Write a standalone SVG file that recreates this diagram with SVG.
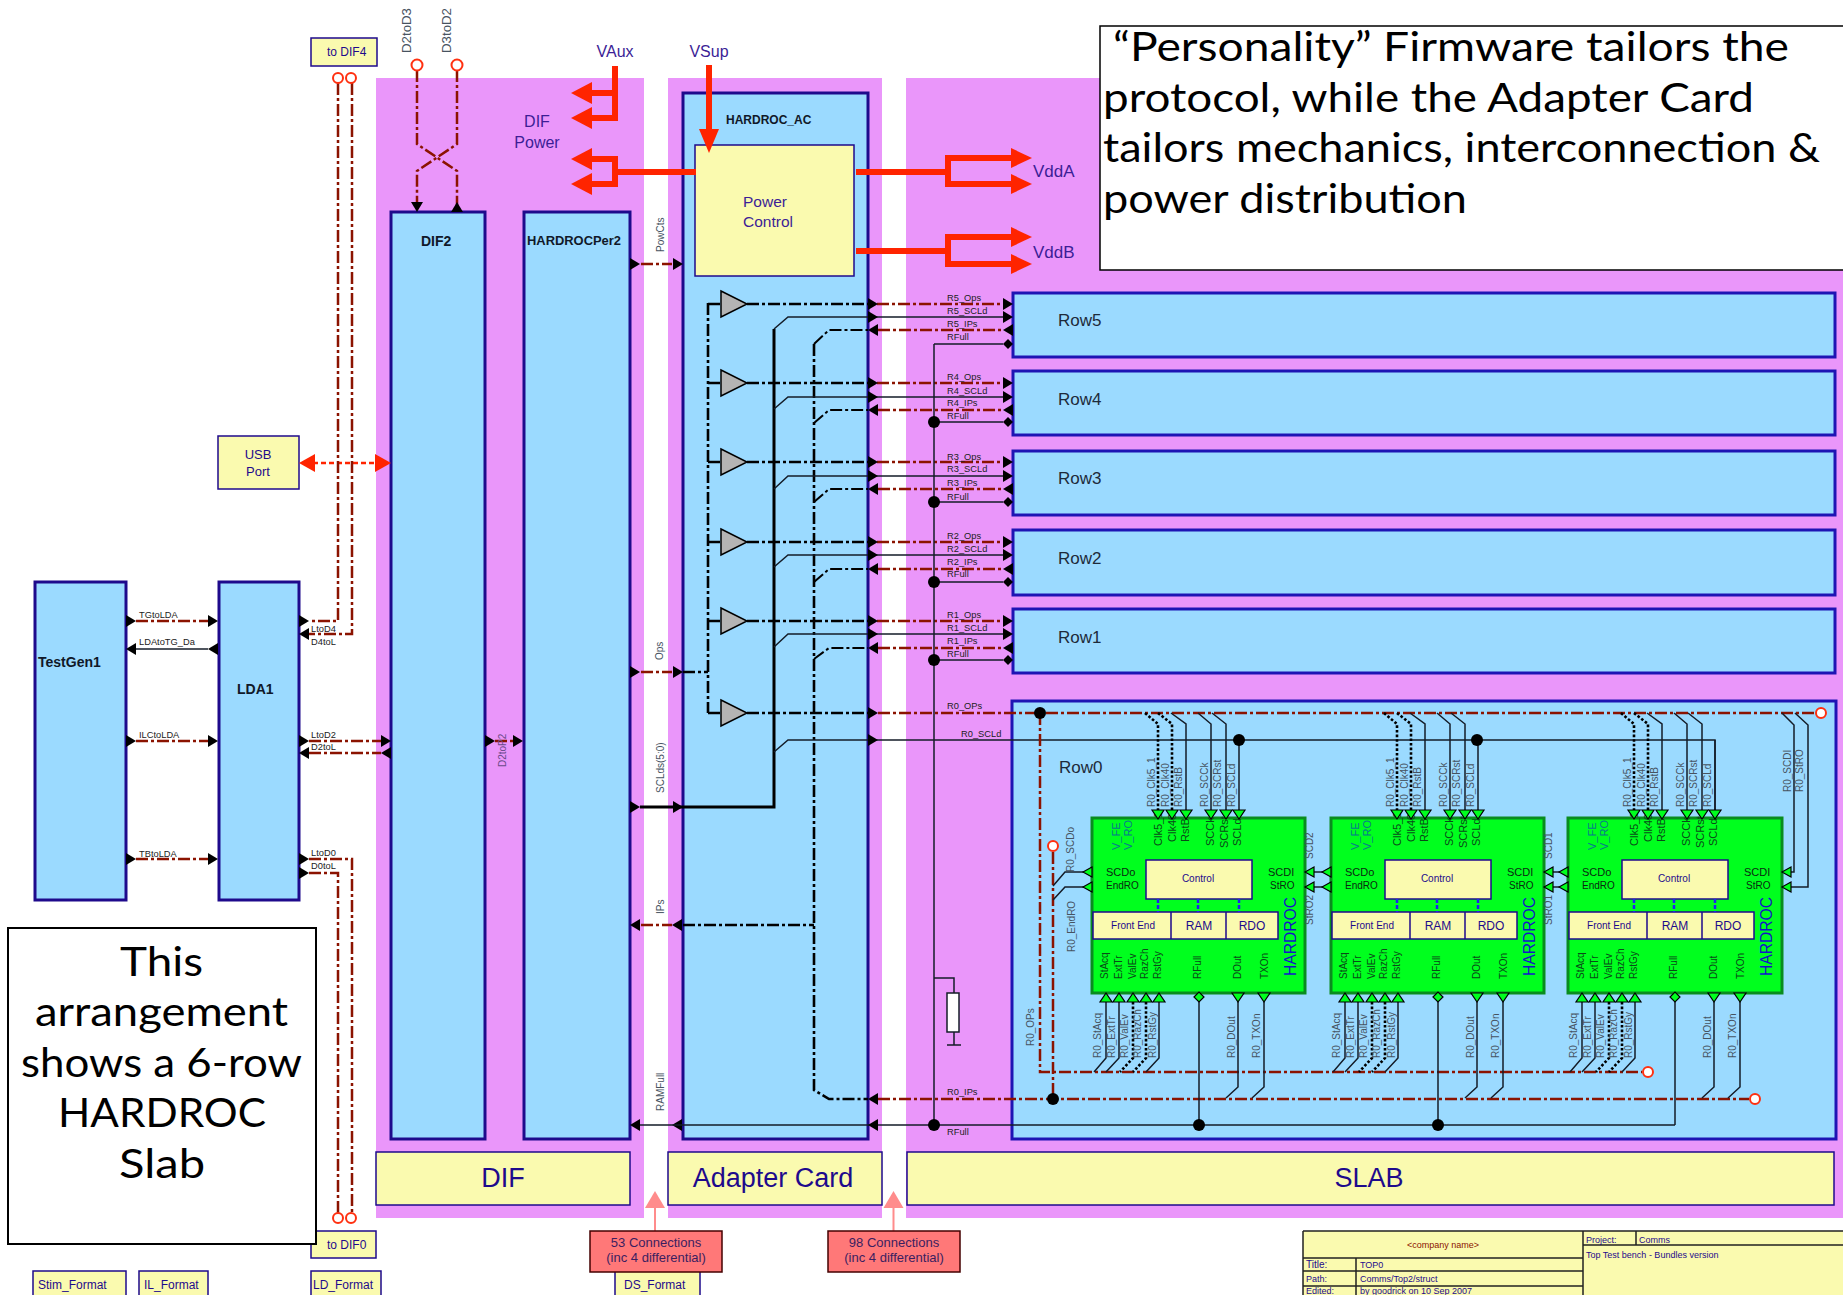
<svg xmlns="http://www.w3.org/2000/svg" xmlns:xlink="http://www.w3.org/1999/xlink" width="1843" height="1295" viewBox="0 0 1843 1295">
<style>
text{font-family:"Liberation Sans",Arial,sans-serif}
.pink{fill:#EA96FA}
.blue{fill:#9BDAFF;stroke:#1E0A8C;stroke-width:3}
.row{fill:#9BDAFF;stroke:#1E14B4;stroke-width:3}
.yel{fill:#FAFAAF;stroke:#1E0A8C;stroke-width:1.5}
.chip{fill:#00FF1E;stroke:#0A8C1E;stroke-width:3}
.hd{font-weight:bold;fill:#101828;font-size:14px}
.nm{fill:#1E2A3A;font-size:17px}
.big{fill:#1E0A8C;font-size:27px;text-anchor:middle}
.pw{fill:#3C1E96;font-size:16px}
.nav{fill:#1E0A8C;font-size:12px}
.sig{fill:#222;font-size:9.3px}
.rl{fill:#47535F;font-size:10px}
.rs{fill:#47535F;font-size:12px}
.pt{fill:#0A4A18;font-size:11px}
.pb{fill:#0A4A18;font-size:10px}
.vf{fill:#087890;font-size:11px}
.hr{fill:#1414C8;font-size:16px}
.ch{fill:#0A2A10;font-size:11px}
.cb{fill:#1E0A8C;font-size:10px;text-anchor:middle}
.cc{fill:#1E0A8C;font-size:12px;text-anchor:middle}
.tb{fill:#1E0A8C;font-size:9px}
.note{font-family:Lato,"DejaVu Sans",sans-serif;font-size:40px;fill:#000}
.cn{fill:#3C1E60;font-size:13px;text-anchor:middle}
.dd{fill:none;stroke:#8B1300;stroke-width:2.5;stroke-dasharray:12 3 3 3}
.bd{fill:none;stroke:#000;stroke-width:2.6;stroke-dasharray:12 3 3 3}
.bt{fill:none;stroke:#000;stroke-width:3}
.bs{fill:none;stroke:#000;stroke-width:2;stroke-dasharray:12 3 3 3}
.th{fill:none;stroke:#141C28;stroke-width:1.5}
.dot{fill:none;stroke:#000;stroke-width:2.6;stroke-dasharray:2.6 2}
.pwr{fill:none;stroke:#FF2400;stroke-width:6}
.rh{fill:#FF2400}
.term{fill:#fff;stroke:#FF3010;stroke-width:2}
.tri{fill:#B4B4B4;stroke:#000;stroke-width:1.5}
</style>
<defs>
<polygon id="ar" points="0,-6 10,0 0,6" fill="#000"/>
<polygon id="al" points="0,0 10,-6 10,6" fill="#000"/>
<polygon id="ad" points="-6,0 6,0 0,10" fill="#000"/>
<polygon id="au" points="-6,10 6,10 0,0" fill="#000"/>
<polygon id="dm" points="-5,0 0,-5 5,0 0,5" fill="#000"/>
<circle id="jn" r="6" fill="#000"/>
<polygon id="gd" points="-6,0 6,0 0,9" fill="#00FF1E" stroke="#000" stroke-width="1.2"/>
<polygon id="gu" points="-6,9 6,9 0,0" fill="#00FF1E" stroke="#000" stroke-width="1.2"/>
<polygon id="gl" points="0,0 9,-5 9,5" fill="#00FF1E" stroke="#000" stroke-width="1.2"/>
<polygon id="gm" points="-5,0 0,-5 5,0 0,5" fill="#00FF1E" stroke="#000" stroke-width="1.2"/>
<g id="chipwires">
<path class="dot" d="M1145 713L1158 724V811M1158 713L1172 724V811M1133 1002V1058L1120 1072M1146 1002V1058L1133 1072"/>
<path class="th" d="M1171 713L1186 724V811M1198 713L1211 724V811M1212 713L1226 724V811M1239 740V811M1106 1002V1058L1094 1072M1119 1002V1058L1106 1072M1159 1002V1058L1146 1072M1238 1002V1087L1226 1098M1264 1002V1087L1252 1098M1199 1002V1125"/>
<use href="#gd" x="1158" y="810"/><use href="#gd" x="1172" y="810"/><use href="#gd" x="1186" y="810"/><use href="#gd" x="1211" y="810"/><use href="#gd" x="1226" y="810"/><use href="#gd" x="1239" y="810"/>
<use href="#gu" x="1106" y="993"/><use href="#gu" x="1119" y="993"/><use href="#gu" x="1133" y="993"/><use href="#gu" x="1146" y="993"/><use href="#gu" x="1159" y="993"/>
<use href="#gm" x="1199" y="997"/><use href="#gd" x="1238" y="993"/><use href="#gd" x="1264" y="993"/>
</g>
</defs>
<rect width="1843" height="1295" fill="#fff"/>
<g id="backgrounds">
<rect class="pink" x="376" y="78" width="268" height="1140"/>
<rect class="pink" x="668" y="78" width="214" height="1140"/>
<rect class="pink" x="906" y="78" width="937" height="1140"/>
</g>
<g id="TestGen1"><rect class="blue" x="35" y="582" width="91" height="318"/><text class="hd" x="38" y="667">TestGen1</text></g>
<g id="LDA1"><rect class="blue" x="219" y="582" width="80" height="318"/><text class="hd" x="237" y="694">LDA1</text></g>
<g id="DIF2"><rect class="blue" x="391" y="212" width="94" height="927"/><text class="hd" x="421" y="246">DIF2</text></g>
<g id="HARDROCPer2"><rect class="blue" x="524" y="212" width="106" height="927"/><text class="hd" x="527" y="245" textLength="94" lengthAdjust="spacingAndGlyphs" style="font-size:13px">HARDROCPer2</text></g>
<g id="HARDROC_AC"><rect class="blue" x="683" y="93" width="185" height="1046"/><text class="hd" x="726" y="124" style="font-size:12px">HARDROC_AC</text></g>
<g id="PowerControl"><rect class="yel" x="695" y="145" width="159" height="131"/><text class="pw" x="743" y="207" style="font-size:15.5px">Power</text><text class="pw" x="743" y="227" style="font-size:15.5px">Control</text></g>
<g id="Row5"><rect class="row" x="1013" y="293" width="822" height="64"/><text class="nm" x="1058" y="326">Row5</text></g>
<g id="Row4"><rect class="row" x="1013" y="371" width="822" height="64"/><text class="nm" x="1058" y="405">Row4</text></g>
<g id="Row3"><rect class="row" x="1013" y="451" width="822" height="64"/><text class="nm" x="1058" y="484">Row3</text></g>
<g id="Row2"><rect class="row" x="1013" y="530" width="822" height="65"/><text class="nm" x="1058" y="564">Row2</text></g>
<g id="Row1"><rect class="row" x="1013" y="609" width="822" height="64"/><text class="nm" x="1058" y="643">Row1</text></g>
<g id="Row0"><rect class="row" x="1012" y="701" width="824" height="438"/><text class="nm" x="1059" y="773">Row0</text></g>
<g id="DIF"><rect class="yel" x="376" y="1152" width="254" height="53"/><text class="big" x="503" y="1187">DIF</text></g>
<g id="AdapterCard"><rect class="yel" x="668" y="1152" width="214" height="53"/><text class="big" x="773" y="1187">Adapter Card</text></g>
<g id="SLAB"><rect class="yel" x="907" y="1152" width="927" height="53"/><text class="big" x="1369" y="1187">SLAB</text></g>
<g id="USBPort"><rect class="yel" x="218" y="436" width="81" height="53"/><text class="cc" x="258" y="459" style="font-size:13px">USB</text><text class="cc" x="258" y="476" style="font-size:13px">Port</text></g>
<g id="toDIF4"><rect class="yel" x="311" y="38" width="66" height="28"/><text class="nav" x="327" y="56">to DIF4</text></g>
<g id="toDIF0"><rect class="yel" x="311" y="1231" width="65" height="27"/><text class="nav" x="327" y="1249">to DIF0</text></g>
<g id="Stim_Format"><rect class="yel" x="33" y="1271" width="93" height="30"/><text class="nav" x="38" y="1289">Stim_Format</text></g>
<g id="IL_Format"><rect class="yel" x="139" y="1271" width="69" height="30"/><text class="nav" x="144" y="1289">IL_Format</text></g>
<g id="LD_Format"><rect class="yel" x="311" y="1271" width="70" height="30"/><text class="nav" x="313" y="1289">LD_Format</text></g>
<g id="DS_Format"><rect class="yel" x="615" y="1271" width="85" height="30"/><text class="nav" x="624" y="1289">DS_Format</text></g>

<g id="chip1">
<rect class="chip" x="1092" y="818" width="213" height="175"/>
<rect class="yel" x="1146" y="860" width="106" height="39"/><text class="cb" x="1198" y="882">Control</text>
<rect class="yel" x="1093" y="912" width="185" height="27"/><path d="M1171 912V939M1226 912V939" stroke="#1E0A8C" stroke-width="1.5"/>
<text class="cb" x="1133" y="929">Front End</text><text class="cc" x="1199" y="930">RAM</text><text class="cc" x="1252" y="930">RDO</text>
<path d="M1158 899V912M1198 899V912M1239 899V912" stroke="#2020F0" stroke-width="2.5" stroke-dasharray="4 2"/>
<text class="ch" x="1106" y="876">SCDo</text><text class="ch" x="1106" y="889" style="font-size:10px">EndRO</text><text class="ch" x="1268" y="876">SCDI</text><text class="ch" x="1270" y="889" style="font-size:10px">StRO</text>
<text class="hr" transform="translate(1296,976) rotate(-90)" textLength="79" lengthAdjust="spacingAndGlyphs">HARDROC</text>
<text class="vf" transform="translate(1120,850) rotate(-90)">V_FE</text><text class="vf" transform="translate(1132,850) rotate(-90)">V_RO</text>
<text class="pt" transform="translate(1162,846) rotate(-90)">Clk5_1</text><text class="pt" transform="translate(1176,842) rotate(-90)">Clk40</text><text class="pt" transform="translate(1189,842) rotate(-90)">RstB</text><text class="pt" transform="translate(1214,846) rotate(-90)">SCCk</text><text class="pt" transform="translate(1228,848) rotate(-90)">SCRst</text><text class="pt" transform="translate(1241,846) rotate(-90)">SCLd</text>
<text class="pb" transform="translate(1108,979) rotate(-90)">StAcq</text><text class="pb" transform="translate(1122,979) rotate(-90)">ExtTr</text><text class="pb" transform="translate(1136,979) rotate(-90)">ValEv</text><text class="pb" transform="translate(1148,979) rotate(-90)">RazCh</text><text class="pb" transform="translate(1161,979) rotate(-90)">RstGy</text><text class="pb" transform="translate(1201,979) rotate(-90)">RFull</text><text class="pb" transform="translate(1241,979) rotate(-90)">DOut</text><text class="pb" transform="translate(1268,979) rotate(-90)">TXOn</text>
</g>
<g id="chip2" transform="translate(239,0)">
<rect class="chip" x="1092" y="818" width="213" height="175"/>
<rect class="yel" x="1146" y="860" width="106" height="39"/><text class="cb" x="1198" y="882">Control</text>
<rect class="yel" x="1093" y="912" width="185" height="27"/><path d="M1171 912V939M1226 912V939" stroke="#1E0A8C" stroke-width="1.5"/>
<text class="cb" x="1133" y="929">Front End</text><text class="cc" x="1199" y="930">RAM</text><text class="cc" x="1252" y="930">RDO</text>
<path d="M1158 899V912M1198 899V912M1239 899V912" stroke="#2020F0" stroke-width="2.5" stroke-dasharray="4 2"/>
<text class="ch" x="1106" y="876">SCDo</text><text class="ch" x="1106" y="889" style="font-size:10px">EndRO</text><text class="ch" x="1268" y="876">SCDI</text><text class="ch" x="1270" y="889" style="font-size:10px">StRO</text>
<text class="hr" transform="translate(1296,976) rotate(-90)" textLength="79" lengthAdjust="spacingAndGlyphs">HARDROC</text>
<text class="vf" transform="translate(1120,850) rotate(-90)">V_FE</text><text class="vf" transform="translate(1132,850) rotate(-90)">V_RO</text>
<text class="pt" transform="translate(1162,846) rotate(-90)">Clk5_1</text><text class="pt" transform="translate(1176,842) rotate(-90)">Clk40</text><text class="pt" transform="translate(1189,842) rotate(-90)">RstB</text><text class="pt" transform="translate(1214,846) rotate(-90)">SCCk</text><text class="pt" transform="translate(1228,848) rotate(-90)">SCRst</text><text class="pt" transform="translate(1241,846) rotate(-90)">SCLd</text>
<text class="pb" transform="translate(1108,979) rotate(-90)">StAcq</text><text class="pb" transform="translate(1122,979) rotate(-90)">ExtTr</text><text class="pb" transform="translate(1136,979) rotate(-90)">ValEv</text><text class="pb" transform="translate(1148,979) rotate(-90)">RazCh</text><text class="pb" transform="translate(1161,979) rotate(-90)">RstGy</text><text class="pb" transform="translate(1201,979) rotate(-90)">RFull</text><text class="pb" transform="translate(1241,979) rotate(-90)">DOut</text><text class="pb" transform="translate(1268,979) rotate(-90)">TXOn</text>
</g>
<g id="chip3" transform="translate(476,0)">
<rect class="chip" x="1092" y="818" width="214" height="175"/>
<rect class="yel" x="1146" y="860" width="106" height="39"/><text class="cb" x="1198" y="882">Control</text>
<rect class="yel" x="1093" y="912" width="185" height="27"/><path d="M1171 912V939M1226 912V939" stroke="#1E0A8C" stroke-width="1.5"/>
<text class="cb" x="1133" y="929">Front End</text><text class="cc" x="1199" y="930">RAM</text><text class="cc" x="1252" y="930">RDO</text>
<path d="M1158 899V912M1198 899V912M1239 899V912" stroke="#2020F0" stroke-width="2.5" stroke-dasharray="4 2"/>
<text class="ch" x="1106" y="876">SCDo</text><text class="ch" x="1106" y="889" style="font-size:10px">EndRO</text><text class="ch" x="1268" y="876">SCDI</text><text class="ch" x="1270" y="889" style="font-size:10px">StRO</text>
<text class="hr" transform="translate(1296,976) rotate(-90)" textLength="79" lengthAdjust="spacingAndGlyphs">HARDROC</text>
<text class="vf" transform="translate(1120,850) rotate(-90)">V_FE</text><text class="vf" transform="translate(1132,850) rotate(-90)">V_RO</text>
<text class="pt" transform="translate(1162,846) rotate(-90)">Clk5_1</text><text class="pt" transform="translate(1176,842) rotate(-90)">Clk40</text><text class="pt" transform="translate(1189,842) rotate(-90)">RstB</text><text class="pt" transform="translate(1214,846) rotate(-90)">SCCk</text><text class="pt" transform="translate(1228,848) rotate(-90)">SCRst</text><text class="pt" transform="translate(1241,846) rotate(-90)">SCLd</text>
<text class="pb" transform="translate(1108,979) rotate(-90)">StAcq</text><text class="pb" transform="translate(1122,979) rotate(-90)">ExtTr</text><text class="pb" transform="translate(1136,979) rotate(-90)">ValEv</text><text class="pb" transform="translate(1148,979) rotate(-90)">RazCh</text><text class="pb" transform="translate(1161,979) rotate(-90)">RstGy</text><text class="pb" transform="translate(1201,979) rotate(-90)">RFull</text><text class="pb" transform="translate(1241,979) rotate(-90)">DOut</text><text class="pb" transform="translate(1268,979) rotate(-90)">TXOn</text>
</g>

<g id="connectors">
<path class="pwr" d="M615 66V121M615 93H590M618 118H590M590 159H615V184H590M612 172H696M709 65V132M856 172H948M948 158V184M945 158H1012M945 184H1012M856 251H948M948 237V264M945 237H1012M945 264H1012"/>
<g class="rh">
<polygon points="571,93 592,82 592,104"/><polygon points="571,118 592,107 592,129"/><polygon points="571,159 592,148 592,170"/><polygon points="571,184 592,173 592,195"/>
<polygon points="709,153 699,129 719,129"/>
<polygon points="1032,158 1011,148 1011,168"/><polygon points="1032,184 1011,174 1011,194"/><polygon points="1032,237 1011,227 1011,247"/><polygon points="1032,264 1011,254 1011,274"/>
</g>
<path d="M305 463H385" fill="none" stroke="#FF2400" stroke-width="2.5" stroke-dasharray="5 3"/>
<polygon class="rh" points="299,463 315,454 315,472"/><polygon class="rh" points="391,463 375,454 375,472"/>
<path class="dd" d="M417 70V144L457 171V205M457 70V144L417 171V205M338 83V621H309M352 83V634H309M309 741H381M309 753H381M309 859H352V1213M309 873H338V1213M136 621H208M136 741H208M136 859H208M495 741H514M641 264H672M641 672H672M641 925H672"/>
<path class="th" d="M136 649H208"/>
<use href="#ad" x="417" y="202"/><use href="#au" x="457" y="202"/>
<circle class="term" cx="417" cy="65" r="5.5"/><circle class="term" cx="457" cy="65" r="5.5"/>
<circle class="term" cx="338" cy="78" r="5"/><circle class="term" cx="351" cy="78" r="5"/>
<circle class="term" cx="338" cy="1218" r="5"/><circle class="term" cx="351" cy="1218" r="5"/>
<use href="#ar" x="126" y="621"/><use href="#ar" x="208" y="621"/><use href="#al" x="126" y="649"/><use href="#al" x="208" y="649"/><use href="#ar" x="126" y="741"/><use href="#ar" x="208" y="741"/><use href="#ar" x="126" y="859"/><use href="#ar" x="208" y="859"/>
<use href="#ar" x="299" y="621"/><use href="#al" x="299" y="634"/><use href="#ar" x="299" y="741"/><use href="#ar" x="381" y="741"/><use href="#al" x="299" y="753"/><use href="#al" x="381" y="753"/><use href="#ar" x="299" y="859"/><use href="#ar" x="299" y="873"/>
<use href="#ar" x="485" y="741"/><use href="#ar" x="513" y="741"/>
<use href="#ar" x="630" y="264"/><use href="#ar" x="673" y="264"/><use href="#ar" x="630" y="672"/><use href="#ar" x="673" y="672"/><use href="#ar" x="630" y="807"/><use href="#ar" x="673" y="807"/><use href="#al" x="630" y="925"/><use href="#al" x="672" y="925"/><use href="#al" x="630" y="1125"/><use href="#al" x="672" y="1125"/>
<path class="bt" d="M640 807H774V329"/>
<path class="bd" d="M683 672H708M708 303V713M708 304H721M708 383H721M708 462H721M708 542H721M708 621H721M708 713H721M747 304H868M747 383H868M747 462H868M747 542H868M747 621H868M747 713H868M683 925H814M814 344V1090L829 1099H868"/>
<polygon class="tri" points="721,291 747,304 721,317"/><polygon class="tri" points="721,370 747,383 721,396"/><polygon class="tri" points="721,449 747,462 721,475"/><polygon class="tri" points="721,529 747,542 721,555"/><polygon class="tri" points="721,608 747,621 721,634"/><polygon class="tri" points="721,700 747,713 721,726"/>
<path class="th" d="M774 329L788 317H1003M774 409L788 397H1003M774 489L788 476H1003M774 567L788 555H1003M774 647L788 634H1003M774 752L788 740H1715V811"/>
<path class="bs" d="M814 344L829 330H868M814 423L829 410H868M814 502L829 489H868M814 582L829 569H868M814 659L829 648H868"/>
<path class="dd" d="M877 304H1003M877 383H1003M877 462H1003M877 542H1003M877 621H1003M878 330H1004M878 410H1004M878 489H1004M878 569H1004M878 648H1004"/>
<path class="th" d="M934 344V1125M934 344H1003M934 422H1003M934 502H1003M934 582H1003M934 660H1003M640 1125H1675M934 978H954V993M954 1032V1045M947 1045H961"/>
<rect x="947" y="993" width="12" height="39" fill="#fff" stroke="#141C28" stroke-width="1.5"/>
<use href="#ar" x="868" y="304"/><use href="#ar" x="1003" y="304"/><use href="#ar" x="868" y="383"/><use href="#ar" x="1003" y="383"/><use href="#ar" x="868" y="462"/><use href="#ar" x="1003" y="462"/><use href="#ar" x="868" y="542"/><use href="#ar" x="1003" y="542"/><use href="#ar" x="868" y="621"/><use href="#ar" x="1003" y="621"/><use href="#ar" x="868" y="713"/>
<use href="#ar" x="868" y="317"/><use href="#ar" x="1003" y="317"/><use href="#ar" x="868" y="397"/><use href="#ar" x="1003" y="397"/><use href="#ar" x="868" y="476"/><use href="#ar" x="1003" y="476"/><use href="#ar" x="868" y="555"/><use href="#ar" x="1003" y="555"/><use href="#ar" x="868" y="634"/><use href="#ar" x="1003" y="634"/><use href="#ar" x="868" y="740"/>
<use href="#al" x="868" y="330"/><use href="#al" x="1003" y="330"/><use href="#al" x="868" y="410"/><use href="#al" x="1003" y="410"/><use href="#al" x="868" y="489"/><use href="#al" x="1003" y="489"/><use href="#al" x="868" y="569"/><use href="#al" x="1003" y="569"/><use href="#al" x="868" y="648"/><use href="#al" x="1003" y="648"/><use href="#al" x="868" y="1099"/><use href="#al" x="868" y="1125"/>
<use href="#dm" x="1008" y="344"/><use href="#dm" x="1008" y="422"/><use href="#dm" x="1008" y="502"/><use href="#dm" x="1008" y="582"/><use href="#dm" x="1008" y="660"/>
<use href="#jn" x="934" y="422"/><use href="#jn" x="934" y="502"/><use href="#jn" x="934" y="582"/><use href="#jn" x="934" y="660"/><use href="#jn" x="934" y="1125"/>
<path class="dd" d="M878 713H1815M878 1099H1749M1040 713V1072H1642M1053 852V1099"/>
<use href="#chipwires"/><use href="#chipwires" x="239"/><use href="#chipwires" x="476"/>
<path class="th" d="M1053 886L1065 872H1084M1053 900L1065 887H1084M1305 872H1331M1305 887H1331M1544 872H1568M1544 887H1568M1791 872H1794V725L1782 713M1791 887H1808V725L1795 713"/>
<use href="#gl" x="1083" y="872"/><use href="#gl" x="1083" y="887"/>
<use href="#gl" x="1305" y="872"/><use href="#gl" x="1322" y="872"/><use href="#gl" x="1305" y="887"/><use href="#gl" x="1322" y="887"/>
<use href="#gl" x="1544" y="872"/><use href="#gl" x="1559" y="872"/><use href="#gl" x="1544" y="887"/><use href="#gl" x="1559" y="887"/>
<use href="#gl" x="1782" y="872"/><use href="#gl" x="1782" y="887"/>
<use href="#jn" x="1040" y="713"/><use href="#jn" x="1053" y="1099"/><use href="#jn" x="1239" y="740"/><use href="#jn" x="1477" y="740"/><use href="#jn" x="1199" y="1125"/><use href="#jn" x="1438" y="1125"/>
<circle class="term" cx="1821" cy="713" r="5"/><circle class="term" cx="1648" cy="1072" r="5"/><circle class="term" cx="1755" cy="1099" r="5"/><circle class="term" cx="1053" cy="846" r="5"/>
<g id="labels">
<text class="rs" transform="translate(411,53) rotate(-90)" textLength="45" lengthAdjust="spacingAndGlyphs">D2toD3</text><text class="rs" transform="translate(451,53) rotate(-90)" textLength="45" lengthAdjust="spacingAndGlyphs">D3toD2</text>
<text class="sig" x="139" y="618">TGtoLDA</text><text class="sig" x="139" y="645">LDAtoTG_Da</text><text class="sig" x="139" y="738">ILCtoLDA</text><text class="sig" x="139" y="857">TBtoLDA</text>
<text class="sig" x="311" y="632">LtoD4</text><text class="sig" x="311" y="645">D4toL</text><text class="sig" x="311" y="738">LtoD2</text><text class="sig" x="311" y="750">D2toL</text><text class="sig" x="311" y="856">LtoD0</text><text class="sig" x="311" y="869">D0toL</text>
<text class="rl" transform="translate(506,767) rotate(-90)" style="fill:#6A4A8A">D2toP2</text>
<text class="rl" transform="translate(664,252) rotate(-90)">PowCts</text><text class="rl" transform="translate(663,660) rotate(-90)">Ops</text><text class="rl" transform="translate(664,793) rotate(-90)">SCLds(5:0)</text><text class="rl" transform="translate(664,914) rotate(-90)">IPs</text><text class="rl" transform="translate(664,1111) rotate(-90)">RAMFull</text>
<text class="sig" x="947" y="301">R5_Ops</text><text class="sig" x="947" y="314">R5_SCLd</text><text class="sig" x="947" y="327">R5_IPs</text><text class="sig" x="947" y="340">RFull</text>
<text class="sig" x="947" y="380">R4_Ops</text><text class="sig" x="947" y="394">R4_SCLd</text><text class="sig" x="947" y="406">R4_IPs</text><text class="sig" x="947" y="419">RFull</text>
<text class="sig" x="947" y="460">R3_Ops</text><text class="sig" x="947" y="472">R3_SCLd</text><text class="sig" x="947" y="486">R3_IPs</text><text class="sig" x="947" y="500">RFull</text>
<text class="sig" x="947" y="539">R2_Ops</text><text class="sig" x="947" y="552">R2_SCLd</text><text class="sig" x="947" y="565">R2_IPs</text><text class="sig" x="947" y="577">RFull</text>
<text class="sig" x="947" y="618">R1_Ops</text><text class="sig" x="947" y="631">R1_SCLd</text><text class="sig" x="947" y="644">R1_IPs</text><text class="sig" x="947" y="657">RFull</text>
<text class="sig" x="947" y="709">R0_OPs</text><text class="sig" x="961" y="737">R0_SCLd</text><text class="sig" x="947" y="1095">R0_IPs</text><text class="sig" x="947" y="1135">RFull</text>
<text class="rl" transform="translate(1074,872) rotate(-90)">R0_SCDo</text><text class="rl" transform="translate(1075,952) rotate(-90)">R0_EndRO</text><text class="rl" transform="translate(1034,1046) rotate(-90)">R0_OPs</text>
<text class="rl" transform="translate(1791,792) rotate(-90)">R0_SCDI</text><text class="rl" transform="translate(1803,792) rotate(-90)">R0_StRO</text>
<text class="rl" transform="translate(1313,859) rotate(-90)">SCD2</text><text class="rl" transform="translate(1313,925) rotate(-90)">StRO2</text><text class="rl" transform="translate(1552,859) rotate(-90)">SCD1</text><text class="rl" transform="translate(1552,925) rotate(-90)">StRO1</text>
<g id="labels-chip1">
<text class="rl" transform="translate(1155,807) rotate(-90)">R0_Clk5_1</text><text class="rl" transform="translate(1169,807) rotate(-90)">R0_Clk40</text><text class="rl" transform="translate(1182,807) rotate(-90)">R0_RstB</text><text class="rl" transform="translate(1208,807) rotate(-90)">R0_SCCk</text><text class="rl" transform="translate(1221,807) rotate(-90)">R0_SCRst</text><text class="rl" transform="translate(1235,807) rotate(-90)">R0_SCLd</text>
<text class="rl" transform="translate(1101,1058) rotate(-90)">R0_StAcq</text><text class="rl" transform="translate(1115,1058) rotate(-90)">R0_ExtTr</text><text class="rl" transform="translate(1128,1058) rotate(-90)">R0_ValEv</text><text class="rl" transform="translate(1141,1058) rotate(-90)">R0_RazCh</text><text class="rl" transform="translate(1156,1058) rotate(-90)">R0_RstGy</text><text class="rl" transform="translate(1235,1058) rotate(-90)">R0_DOut</text><text class="rl" transform="translate(1260,1058) rotate(-90)">R0_TXOn</text>
</g>
<g id="labels-chip2" transform="translate(239,0)">
<text class="rl" transform="translate(1155,807) rotate(-90)">R0_Clk5_1</text><text class="rl" transform="translate(1169,807) rotate(-90)">R0_Clk40</text><text class="rl" transform="translate(1182,807) rotate(-90)">R0_RstB</text><text class="rl" transform="translate(1208,807) rotate(-90)">R0_SCCk</text><text class="rl" transform="translate(1221,807) rotate(-90)">R0_SCRst</text><text class="rl" transform="translate(1235,807) rotate(-90)">R0_SCLd</text>
<text class="rl" transform="translate(1101,1058) rotate(-90)">R0_StAcq</text><text class="rl" transform="translate(1115,1058) rotate(-90)">R0_ExtTr</text><text class="rl" transform="translate(1128,1058) rotate(-90)">R0_ValEv</text><text class="rl" transform="translate(1141,1058) rotate(-90)">R0_RazCh</text><text class="rl" transform="translate(1156,1058) rotate(-90)">R0_RstGy</text><text class="rl" transform="translate(1235,1058) rotate(-90)">R0_DOut</text><text class="rl" transform="translate(1260,1058) rotate(-90)">R0_TXOn</text>
</g>
<g id="labels-chip3" transform="translate(476,0)">
<text class="rl" transform="translate(1155,807) rotate(-90)">R0_Clk5_1</text><text class="rl" transform="translate(1169,807) rotate(-90)">R0_Clk40</text><text class="rl" transform="translate(1182,807) rotate(-90)">R0_RstB</text><text class="rl" transform="translate(1208,807) rotate(-90)">R0_SCCk</text><text class="rl" transform="translate(1221,807) rotate(-90)">R0_SCRst</text><text class="rl" transform="translate(1235,807) rotate(-90)">R0_SCLd</text>
<text class="rl" transform="translate(1101,1058) rotate(-90)">R0_StAcq</text><text class="rl" transform="translate(1115,1058) rotate(-90)">R0_ExtTr</text><text class="rl" transform="translate(1128,1058) rotate(-90)">R0_ValEv</text><text class="rl" transform="translate(1141,1058) rotate(-90)">R0_RazCh</text><text class="rl" transform="translate(1156,1058) rotate(-90)">R0_RstGy</text><text class="rl" transform="translate(1235,1058) rotate(-90)">R0_DOut</text><text class="rl" transform="translate(1260,1058) rotate(-90)">R0_TXOn</text>
</g>
</g>
<path d="M655 1231V1205M893.5 1231V1205" stroke="#FF8C8C" stroke-width="2" fill="none"/>
<polygon points="655,1191 645,1208 665,1208" fill="#FF8C8C"/><polygon points="893.5,1191 883.5,1208 903.5,1208" fill="#FF8C8C"/>
</g>
<text class="pw" x="615" y="57" text-anchor="middle">VAux</text>
<text class="pw" x="709" y="57" text-anchor="middle">VSup</text>
<text class="pw" x="537" y="127" text-anchor="middle">DIF</text>
<text class="pw" x="537" y="148" text-anchor="middle">Power</text>
<text class="pw" x="1033" y="177" style="font-size:17px">VddA</text>
<text class="pw" x="1033" y="258" style="font-size:17px">VddB</text>

<g id="conn53"><rect x="590" y="1231" width="132" height="41" fill="#FF7878" stroke="#400" stroke-width="1.5"/><text class="cn" x="656" y="1247">53 Connections</text><text class="cn" x="656" y="1262">(inc 4 differential)</text></g>
<g id="conn98"><rect x="828" y="1231" width="132" height="41" fill="#FF7878" stroke="#400" stroke-width="1.5"/><text class="cn" x="894" y="1247">98 Connections</text><text class="cn" x="894" y="1262">(inc 4 differential)</text></g>

<g id="titleblock">
<rect x="1303" y="1231" width="540" height="64" fill="#FAFAAF"/>
<path d="M1303 1231H1843M1303 1258H1583M1583 1245H1843M1303 1271H1583M1303 1286H1583M1303 1231V1295M1356 1258V1295M1583 1231V1295M1636 1231V1245" stroke="#222" stroke-width="1.5" fill="none"/>
<text x="1443" y="1248" text-anchor="middle" style="font-size:9px;fill:#8B1300">&lt;company name&gt;</text>
<text class="tb" x="1306" y="1268" style="font-size:10px">Title:</text><text class="tb" x="1360" y="1268">TOP0</text>
<text class="tb" x="1306" y="1282">Path:</text><text class="tb" x="1360" y="1282">Comms/Top2/struct</text>
<text class="tb" x="1306" y="1294">Edited:</text><text class="tb" x="1360" y="1294">by goodrick on 10 Sep 2007</text>
<text class="tb" x="1586" y="1243">Project:</text><text class="tb" x="1639" y="1243">Comms</text>
<text class="tb" x="1586" y="1258">Top Test bench - Bundles version</text>
</g>

<g id="note-top">
<rect x="1100" y="26" width="745" height="244" fill="#fff" stroke="#000" stroke-width="1.5"/>
<text class="note" x="1113" y="61" textLength="676" lengthAdjust="spacingAndGlyphs">“Personality” Firmware tailors the</text>
<text class="note" x="1103" y="112" textLength="651" lengthAdjust="spacingAndGlyphs">protocol, while the Adapter Card</text>
<text class="note" x="1103" y="162" textLength="717" lengthAdjust="spacingAndGlyphs">tailors mechanics, interconnection &amp;</text>
<text class="note" x="1103" y="213" textLength="364" lengthAdjust="spacingAndGlyphs">power distribution</text>
</g>
<g id="note-left">
<rect x="8" y="928" width="308" height="316" fill="#fff" stroke="#000" stroke-width="2"/>
<text class="note" x="120" y="976" textLength="83" lengthAdjust="spacingAndGlyphs">This</text>
<text class="note" x="35" y="1026" textLength="253" lengthAdjust="spacingAndGlyphs">arrangement</text>
<text class="note" x="21" y="1077" textLength="281" lengthAdjust="spacingAndGlyphs">shows a 6-row</text>
<text class="note" x="58" y="1127" textLength="208" lengthAdjust="spacingAndGlyphs">HARDROC</text>
<text class="note" x="119" y="1178" textLength="86" lengthAdjust="spacingAndGlyphs">Slab</text>
</g>
</svg>
